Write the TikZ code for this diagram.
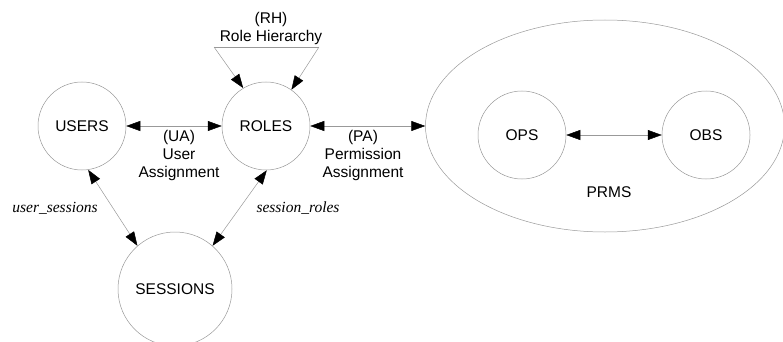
\documentclass[tikz,border=0pt]{standalone}
\usepackage{fontspec}
\setmainfont{Liberation Sans}
\newfontfamily\serifit{Liberation Serif}
\usetikzlibrary{arrows.meta,shapes.geometric}
\begin{document}
\begin{tikzpicture}[x=1pt,y=-1pt,
  lbl/.style={font=\fontsize{15.5}{18}\selectfont, align=center, inner sep=0pt},
  itl/.style={font=\fontsize{15.5}{18}\selectfont\serifit\itshape, inner sep=0pt},
  ent/.style={circle, draw=gray!80, line width=0.5pt, inner sep=0pt, font=\fontsize{15.5}{18}\selectfont},
  conn/.style={draw=gray!80, line width=0.5pt},
  biarr/.style={conn, {Triangle[length=14pt,width=10pt,black]}-{Triangle[length=14pt,width=10pt,black]}},
  onearr/.style={conn, -{Triangle[length=14pt,width=10pt,black]}}]
\useasboundingbox (0,0) rectangle (783,342);
\node[ent, minimum size=88pt] (users) at (82,126) {USERS};
\node[ent, minimum size=88pt] (roles) at (266,126) {ROLES};
\node[ent, minimum size=114pt] (sessions) at (175,289) {SESSIONS};
\node[ellipse, draw=gray!80, line width=0.5pt, minimum width=359pt, minimum height=212pt, inner sep=0pt] (prms) at (605,126) {};
\node[ent, minimum size=88pt] (ops) at (522,135) {OPS};
\node[ent, minimum size=88pt] (obs) at (706,135) {OBS};
\node[lbl] (prmslbl) at (609,192) {PRMS};

\draw[biarr] (users) -- (roles);
\draw[biarr] (roles) -- (prms);
\draw[biarr] (ops) -- (obs);
\draw[biarr] (users.-82) -- (sessions.131);
\draw[biarr] (roles.-89) -- (sessions.49);

\coordinate (rhl) at (214,47);
\coordinate (rhr) at (319,47);
\draw[conn] (rhl) -- (rhr);
\draw[onearr] (rhl) -- (roles.121);
\draw[onearr] (rhr) -- (roles.55);

\node[lbl] (rh) at (271,28) {(RH)\\Role Hierarchy};
\node[lbl] (ua) at (179,155) {(UA)\\User\\Assignment};
\node[lbl] (pa) at (363,155) {(PA)\\Permission\\Assignment};
\node[itl] (us) at (55,208) {user\_sessions};
\node[itl] (sr) at (298,208) {session\_roles};
\end{tikzpicture}
\end{document}
